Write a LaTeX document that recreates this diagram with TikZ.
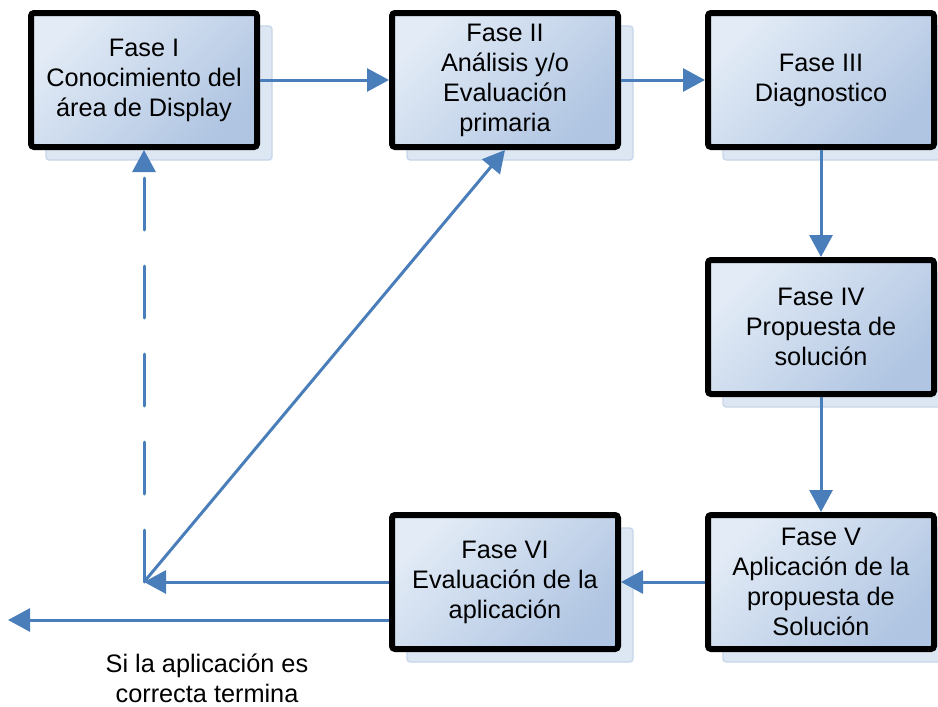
\documentclass[tikz,border=0pt]{standalone}
\usepackage{fontspec}
\setmainfont{Liberation Sans}
\usetikzlibrary{arrows.meta,shadows}
\definecolor{flowblue}{RGB}{74,126,187}
\definecolor{boxlight}{RGB}{226,235,246}
\definecolor{boxdark}{RGB}{176,197,226}
\definecolor{shadefill}{RGB}{221,231,243}
\definecolor{shadeedge}{RGB}{198,213,234}
\begin{document}
\begin{tikzpicture}[x=1pt,y=-1pt,
  phase/.style={draw=black, line width=6pt, rounded corners=3pt,
    minimum width=226pt, minimum height=134pt, inner sep=0pt,
    align=center, font=\fontsize{25.3}{30}\selectfont,
    top color=boxlight, bottom color=boxdark, shading angle=45,
    general shadow={shadow xshift=15pt, shadow yshift=-13pt,
      fill=shadefill, draw=shadeedge, line width=1.2pt}},
  flow/.style={draw=flowblue, line width=3pt, -{Triangle[length=22pt,width=23pt]}},
  note/.style={align=center, font=\fontsize{25.3}{30}\selectfont},
]
\useasboundingbox (0,0) rectangle (938,707);

% phase boxes
\node[phase] (f1) at (144,80)  {Fase I\\Conocimiento del\\área de Display};
\node[phase] (f2) at (505,80)  {Fase II\\Análisis y/o\\Evaluación\\primaria};
\node[phase] (f3) at (821,80)  {Fase III\\Diagnostico};
\node[phase] (f4) at (821,327) {Fase IV\\Propuesta de\\solución};
\node[phase] (f5) at (821,582) {Fase V\\Aplicación de la\\propuesta de\\Solución};
\node[phase] (f6) at (505,582) {Fase VI\\Evaluación de la\\aplicación};

% branch point and exit
\coordinate (fork) at (144,582);
\coordinate (exit) at (8,620);

\node[note] (msg) at (207,678) {Si la aplicación es\\correcta termina};

% connectors
\draw[flow] (f1) -- (f2);
\draw[flow] (f2) -- (f3);
\draw[flow] (f3) -- (f4);
\draw[flow] (f4) -- (f5);
\draw[flow] (f5) -- (f6);
\draw[flow] (f6.west) -- (fork);
\draw[flow, line cap=round, dash pattern=on 52pt off 36pt] (fork) -- (f1.south);
\draw[flow] (fork) -- (f2.south);
\draw[flow] (f6.south west |- exit) -- (exit);
\end{tikzpicture}
\end{document}
